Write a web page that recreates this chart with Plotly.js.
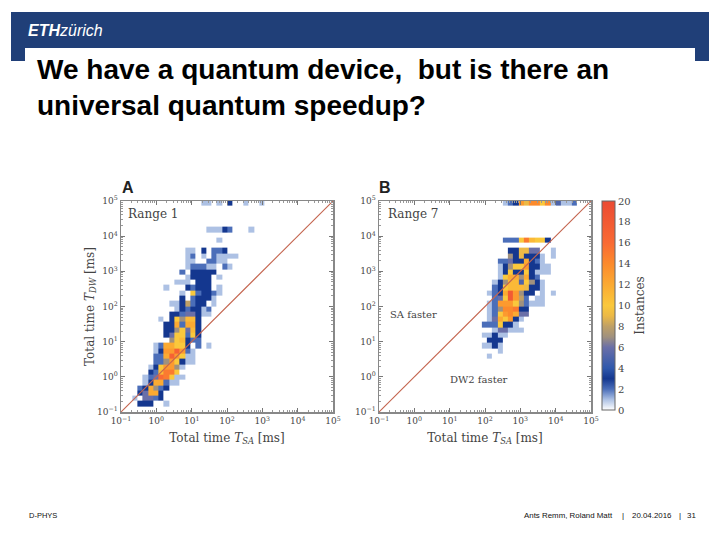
<!DOCTYPE html>
<html><head><meta charset="utf-8">
<script src="https://cdn.plot.ly/plotly-3.0.1.min.js"></script>
<style>html,body{margin:0;padding:0;background:#fff}#c{width:720px;height:540px}</style>
</head><body><div id="c"></div><script>
// Instances per bin, one line per row from the top of the panel: [first column, values...]
const rowsA = [
[15,1,1,0,1,0,3,0,0,1,0,0,1],[],[],[],[],
[16,1,1,1,3,2,0,0,0,1],[],
[18,1],[],
[12,1,1,0,3,0,2,2,3],
[12,1,2,0,1,0,2,1,1,1,1],
[12,1,1,0,0,2,2,1,1],
[12,1,2,2,2,1,1,0,2,1],
[11,2,0,3,3,3,3,3],
[12,1,3,3,3,3,0,1],
[10,1,1,1,0,3,3,3],
[8,1,0,0,0,3,2,3,3,3,0,1],
[11,1,0,10,2,3,3,2,1],
[11,3,0,2,3,3,3,1],
[9,1,1,3,8,2,3,3,0,1],
[10,1,3,2,3,3,1,2],
[9,3,3,2,6,6,3,1,1],
[7,1,0,3,10,7,11,11,3],
[8,3,3,12,2,12,12,3],
[8,3,3,7,10,6,11,3],
[8,3,6,10,10,2,10,3],
[9,7,10,11,3,2,2],
[6,1,2,12,12,10,10,3,0,2,0,1],
[6,1,3,13,13,17,13,2,1],
[6,2,2,12,17,13,10,1,1],
[6,2,2,7,13,10,3,1,1],
[5,1,3,10,13,13,7,1],
[5,3,2,11,15,15,10],
[4,1,2,6,16,15,10,1,1],
[4,1,3,12,12,2,1,1],
[3,2,3,12,7,2,3],
[3,3,6,12,12,3],
[2,1,0,6,6,2,3],
[3,3,3,3,0,0,1],
[]
];
const rowsB = [
[23,1,2,3,13,9,14,14,10,14,1,5,1,1,2],[],[],[],[],[],[],
[23,2,2,2,10,15,11,10,10,3],[],
[24,3,3,9,9,6,6,0,0,1],
[24,7,3,9,3,3,3,1,0,1],
[22,2,2,6,3,3,12,3,2,1],
[22,1,3,7,10,10,13,3,3,1,1],
[22,1,3,10,3,3,10,3,1,1,1],
[22,1,10,12,12,7,12,3,2],
[21,1,3,7,11,11,5,10,7,3,1],
[21,2,3,10,11,11,11,9,3,3,1],
[20,1,2,3,12,18,13,7,3,3,0,1,0,1],
[21,2,6,10,18,13,8,2,0,1,1],
[20,1,2,13,13,13,10,7,2,1,1,1],
[20,1,2,7,14,14,15,3,3],
[20,1,2,10,13,14,12,6,6],
[20,1,6,12,10,13,3,1],
[19,2,2,2,10,3,3,1],
[21,1,6,6,1,1,1],
[19,1,1,3,1,1],
[20,3,3,3],
[19,1,1,3,1],
[22,1],
[20,1],
[],[],[],[],[],[],[],[],[],[]
];
const tickExponents = [-1,0,1,2,3,4,5];
const cbarTicks = [0,2,4,6,8,10,12,14,16,18,20];
const colorLevels = [0,1,2,3,4,6,7,8,9,10,12,14,16,20];
const colorValues = ['#ffffff','#adc1e4','#4b6eb9','#14378f','#2f58ac','#6a6fa8','#a0917e','#bfa066','#ecb946','#fac83c','#fbaa32','#fc8a2c','#f96a34','#eb4a32'];
const diagonal = [0.1,100000];
const xStartA=-0.99, xStartB=-0.9475, yStart=-0.989, binStep=0.15, nBins=40;

const W=720,H=540;
const px=x=>x/W, py=y=>1-y/H;
function grid(rows){
  const z=[];
  for(let r=0;r<nBins;r++){
    const row=new Array(nBins).fill(0);
    const s=rows[nBins-1-r]||[];
    for(let i=1;i<s.length;i++) row[s[0]+i-1]=s[i];
    z.push(row);
  }
  return z;
}
const edges=start=>Array.from({length:nBins+1},(_,k)=>Math.pow(10,start+binStep*k));
const colorscale=colorLevels.map((v,i)=>[v/20,colorValues[i]]);
const tickVals=tickExponents.map(e=>Math.pow(10,e));
const tickText=tickExponents.map(e=>'10<sup>'+(e<0?'\u2212':'')+Math.abs(e)+'</sup>');
const minorVals=[];
tickExponents.slice(0,-1).forEach(e=>{for(let m=2;m<10;m++)minorVals.push(m*Math.pow(10,e));});
const serif='"DejaVu Serif", serif', ink='#444444';
function axis(dom,anchor,title,standoff){
  return {type:'log',domain:dom,anchor:anchor,range:[-1,5],tickmode:'array',tickvals:tickVals,ticktext:tickText,
    ticks:'inside',ticklen:4,tickcolor:'#777',tickwidth:1,mirror:'ticks',showline:true,linecolor:'#888',linewidth:1.5,
    showgrid:false,zeroline:false,tickfont:{family:serif,size:9,color:ink},
    title:{text:title,font:{family:serif,size:12,color:ink},standoff:standoff},
    minor:{tickmode:'array',tickvals:minorVals,ticks:'inside',ticklen:2,tickcolor:'#999',showgrid:false},automargin:false};
}
const tdomY=[py(412),py(201)];
const common={y:edges(yStart),type:'heatmap',zmin:0,zmax:20,colorscale:colorscale,hoverinfo:'skip'};
const traces=[
 Object.assign({},common,{x:edges(xStartA),z:grid(rowsA),xaxis:'x',yaxis:'y',showscale:false}),
 Object.assign({},common,{x:edges(xStartB),z:grid(rowsB),xaxis:'x2',yaxis:'y2',showscale:true,
   colorbar:{x:px(602),xanchor:'left',xpad:0,y:py(201),yanchor:'top',ypad:0,len:209/H,lenmode:'fraction',thickness:13,thicknessmode:'pixels',
     tickmode:'array',tickvals:cbarTicks,ticktext:cbarTicks.map(String),ticks:'',outlinecolor:'#666',outlinewidth:1,
     tickfont:{family:serif,size:10,color:ink},title:{text:'Instances',side:'right',font:{family:serif,size:12,color:ink}}}}),
 {x:diagonal,y:diagonal,xaxis:'x',yaxis:'y',mode:'lines',line:{color:'#c4654f',width:1.1},hoverinfo:'skip',showlegend:false},
 {x:diagonal,y:diagonal,xaxis:'x2',yaxis:'y2',mode:'lines',line:{color:'#c4654f',width:1.1},hoverinfo:'skip',showlegend:false}
];
function note(text,x,y,opt){
  return Object.assign({text:text,xref:'paper',yref:'paper',x:px(x),y:py(y),xanchor:'left',yanchor:'middle',showarrow:false,
    font:{family:serif,size:11,color:ink}},opt||{});
}
const arial='"Liberation Sans", Arial, sans-serif';
const layout={
 width:W,height:H,margin:{l:0,r:0,t:0,b:0},paper_bgcolor:'#fff',plot_bgcolor:'#fff',showlegend:false,
 title:{text:'We have a quantum device,  but is there an<br>universal quantum speedup?',x:px(37),xanchor:'left',xref:'paper',
   y:py(79),yanchor:'top',yref:'paper',font:{family:arial,size:28,color:'#000',weight:700}},
 xaxis:axis([px(121),px(333)],'y','Total time <i>T<sub>SA</sub></i> [ms]',8),
 yaxis:axis(tdomY,'x','Total time <i>T<sub>DW</sub></i> [ms]',0),
 xaxis2:axis([px(379),px(591)],'y2','Total time <i>T<sub>SA</sub></i> [ms]',8),
 yaxis2:axis(tdomY,'x2','',0),
 shapes:[
  {type:'rect',xref:'paper',yref:'paper',x0:px(11),x1:px(709),y0:py(61),y1:py(12),fillcolor:'#203f78',line:{width:0},layer:'below'},
  {type:'rect',xref:'paper',yref:'paper',x0:px(25),x1:px(695),y0:py(61.5),y1:py(48),fillcolor:'#ffffff',line:{width:0},layer:'below'}
 ],
 annotations:[
  note('<b><i>ETH</i></b><i>zürich</i>',26,30,{font:{family:arial,size:16,color:'#fff'}}),
  note('<b>A</b>',120,188,{font:{family:arial,size:16,color:'#222'}}),
  note('<b>B</b>',377,188,{font:{family:arial,size:16,color:'#222'}}),
  note('Range 1',126,214,{font:{family:serif,size:12,color:ink}}),
  note('Range 7',386,214,{font:{family:serif,size:12,color:ink}}),
  note('SA faster',388,314,{font:{family:serif,size:10,color:ink}}),
  note('DW2 faster',448,379,{font:{family:serif,size:10,color:ink}}),
  note('D-PHYS',27,515,{font:{family:arial,size:7.5,color:'#111'}}),
  note('Ants Remm, Roland Matt',522,515,{font:{family:arial,size:7.9,color:'#111'}}),
  note('|',620,515,{font:{family:arial,size:8,color:'#111'}}),
  note('20.04.2016',630,515,{font:{family:arial,size:7.9,color:'#111'}}),
  note('|',677,515,{font:{family:arial,size:8,color:'#111'}}),
  note('31',685,515,{font:{family:arial,size:7.9,color:'#111'}})
 ]
};
Plotly.newPlot('c',traces,layout,{displayModeBar:false,staticPlot:true});
</script></body></html>
